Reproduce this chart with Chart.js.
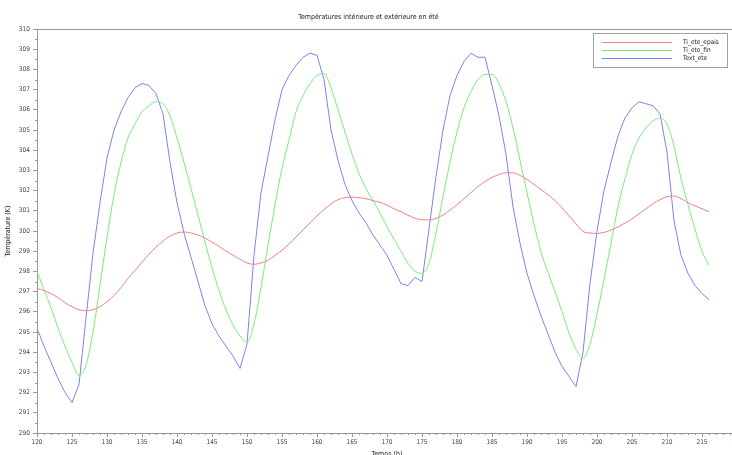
<!DOCTYPE html>
<html>
<head>
<meta charset="utf-8">
<title>Températures intérieure et extérieure en été</title>
<script src="https://cdn.jsdelivr.net/npm/chart.js@4.4.0/dist/chart.umd.min.js"></script>
<style>
  html, body { margin: 0; padding: 0; background: #fff; overflow: hidden; }
  #wrap { position: absolute; left: 0; top: 0; width: 745px; height: 462px; }
</style>
</head>
<body>
<div id="wrap"><canvas id="tempChart"></canvas></div>
<script>
// temps en heures
const hours = [
  120, 121, 122, 123, 124, 125, 126, 127, 128, 129,
  130, 131, 132, 133, 134, 135, 136, 137, 138, 139,
  140, 141, 142, 143, 144, 145, 146, 147, 148, 149,
  150, 151, 152, 153, 154, 155, 156, 157, 158, 159,
  160, 161, 162, 163, 164, 165, 166, 167, 168, 169,
  170, 171, 172, 173, 174, 175, 176, 177, 178, 179,
  180, 181, 182, 183, 184, 185, 186, 187, 188, 189,
  190, 191, 192, 193, 194, 195, 196, 197, 198, 199,
  200, 201, 202, 203, 204, 205, 206, 207, 208, 209,
  210, 211, 212, 213, 214, 215, 216
];

const tiEteEpais = [
  297.16, 297.05, 296.9, 296.7, 296.45, 296.25, 296.1, 296.05, 296.1, 296.25,
  296.5, 296.8, 297.2, 297.65, 298.05, 298.45, 298.85, 299.2, 299.5, 299.75,
  299.9, 299.95, 299.9, 299.8, 299.65, 299.45, 299.25, 299.0, 298.8, 298.6,
  298.42, 298.35, 298.42, 298.55, 298.8, 299.05, 299.35, 299.7, 300.05, 300.4,
  300.75, 301.05, 301.35, 301.55, 301.65, 301.68, 301.65, 301.6, 301.5, 301.42,
  301.28, 301.1, 300.95, 300.78, 300.63, 300.56, 300.55, 300.62, 300.8, 301.03,
  301.3, 301.6, 301.9, 302.2, 302.45, 302.65, 302.8, 302.88, 302.88, 302.75,
  302.55, 302.3, 302.05, 301.8, 301.5, 301.15, 300.75, 300.35, 299.98, 299.9,
  299.88, 299.93, 300.05, 300.2, 300.4, 300.6, 300.85, 301.1, 301.35, 301.55,
  301.7, 301.73, 301.6, 301.4, 301.25, 301.1, 300.95
];

const tiEteFin = [
  298.0, 297.1, 296.2, 295.2, 294.3, 293.5, 292.85, 293.35, 295.0, 297.3,
  299.7, 301.8, 303.4, 304.6, 305.3, 305.9, 306.2, 306.4, 306.3, 305.7,
  304.6, 303.4, 302.1, 300.8, 299.45, 298.2, 297.05, 296.1, 295.35, 294.8,
  294.5, 295.4, 297.2, 299.3, 301.3, 303.1, 304.5, 305.9, 306.7, 307.3,
  307.7, 307.8, 307.1, 306.0, 304.9, 303.8, 302.85, 302.1, 301.5, 300.9,
  300.2, 299.6, 299.0, 298.4, 298.0, 297.9, 298.4, 299.9, 301.7, 303.4,
  304.9, 306.1, 306.9, 307.5, 307.75, 307.75, 307.3, 306.4, 305.1, 303.5,
  301.9, 300.35, 298.95, 297.95, 297.0, 296.0, 294.95, 294.15, 293.7, 294.4,
  295.9, 297.6, 299.4, 301.2, 302.6, 303.8, 304.6, 305.1, 305.45, 305.58,
  305.3, 304.2, 302.6, 301.3, 300.1, 299.0, 298.3
];

const textEte = [
  295.2, 294.3, 293.5, 292.7, 292.0, 291.5, 292.4, 295.7, 298.9, 301.4,
  303.6, 305.0, 305.9, 306.6, 307.1, 307.3, 307.2, 306.8, 305.8, 303.4,
  301.4, 299.9, 298.7, 297.5, 296.3, 295.4, 294.8, 294.3, 293.8, 293.2,
  294.4, 298.8, 301.9, 303.7, 305.5, 307.0, 307.7, 308.2, 308.6, 308.8,
  308.7, 307.5, 305.0, 303.5, 302.3, 301.5, 300.9, 300.4, 299.8, 299.3,
  298.8, 298.1, 297.4, 297.3, 297.7, 297.5, 300.1, 302.7, 305.0, 306.7,
  307.7, 308.4, 308.8, 308.6, 308.6, 307.2, 305.7, 303.8, 301.2, 299.4,
  297.9, 296.8, 295.8, 294.9, 294.0, 293.3, 292.8, 292.3, 294.0, 297.4,
  300.0, 302.0, 303.4, 304.7, 305.6, 306.1, 306.4, 306.3, 306.2, 305.8,
  303.9, 300.5, 298.8, 297.9, 297.3, 296.9, 296.6
];

const seriesNames = ['Ti_ete_epais', 'Ti_ete_fin', 'Text_ete'];
const seriesColors = ['#ef8080', '#78ec78', '#8080ef'];

const FONT = "'DejaVu Sans Condensed', 'DejaVu Sans', sans-serif";
const AXIS_GREY = '#9a9a9a';

function toPoints(ys) {
  return hours.map((h, i) => ({ x: h, y: ys[i] }));
}

// cadre, petites graduations et legende facon Scilab
const scilabPlugin = {
  id: 'scilab',
  afterDraw(chart) {
    const ctx = chart.ctx;
    const a = chart.chartArea;
    const xs = chart.scales.x;
    const ys = chart.scales.y;
    ctx.save();
    ctx.strokeStyle = AXIS_GREY;
    ctx.lineWidth = 1;
    ctx.beginPath();
    ctx.moveTo(a.left, a.top + 0.5);
    ctx.lineTo(a.right, a.top + 0.5);
    ctx.lineTo(a.right, a.bottom);
    ctx.stroke();

    // minor ticks
    ctx.beginPath();
    for (let v = xs.min; v <= xs.max; v += 1) {
      if (v % 5 === 0) continue;
      const px = Math.round(xs.getPixelForValue(v)) + 0.5;
      ctx.moveTo(px, a.bottom);
      ctx.lineTo(px, a.bottom + 2);
    }
    for (let v = ys.min + 0.5; v < ys.max; v += 1) {
      const py = Math.round(ys.getPixelForValue(v)) + 0.5;
      ctx.moveTo(a.left, py);
      ctx.lineTo(a.left - 2, py);
    }
    ctx.stroke();

    // legend box
    const bx = a.right - 144, by = a.top + 4, bw = 134, bh = 34;
    ctx.fillStyle = '#fff';
    ctx.fillRect(bx, by, bw, bh);
    ctx.strokeStyle = '#a0a0a0';
    ctx.strokeRect(bx + 0.5, by + 0.5, bw, bh);
    ctx.font = '6.5px ' + FONT;
    ctx.textBaseline = 'middle';
    chart.data.datasets.forEach((ds, i) => {
      const ly = Math.round(by + 9 + i * 8) + 0.5;
      ctx.strokeStyle = ds.borderColor;
      ctx.beginPath();
      ctx.moveTo(bx + 9, ly);
      ctx.lineTo(bx + 79, ly);
      ctx.stroke();
      ctx.fillStyle = '#222';
      ctx.fillText(ds.label, bx + 90, ly);
    });
    ctx.restore();
  }
};

new Chart(document.getElementById('tempChart').getContext('2d'), {
  type: 'line',
  data: {
    datasets: [
      { label: seriesNames[0], data: toPoints(tiEteEpais), borderColor: seriesColors[0], cubicInterpolationMode: 'monotone' },
      { label: seriesNames[1], data: toPoints(tiEteFin), borderColor: seriesColors[1], cubicInterpolationMode: 'monotone' },
      { label: seriesNames[2], data: toPoints(textEte), borderColor: seriesColors[2] }
    ]
  },
  options: {
    responsive: true,
    maintainAspectRatio: false,
    animation: false,
    events: [],
    layout: { padding: { left: 0, right: 8, top: 0, bottom: 0 } },
    elements: {
      point: { radius: 0 },
      line: { borderWidth: 1, tension: 0 }
    },
    plugins: {
      legend: { display: false },
      tooltip: { enabled: false },
      title: {
        display: true,
        text: 'Températures intérieure et extérieure en été',
        color: '#222',
        font: { family: FONT, size: 7, weight: 'normal' },
        padding: { top: 12.8, bottom: 7.8 }
      }
    },
    scales: {
      x: {
        type: 'linear',
        min: 120,
        max: 220,
        afterFit(scale) { scale.height = 29; },
        border: { color: AXIS_GREY },
        grid: { drawOnChartArea: false, tickLength: 4, color: AXIS_GREY },
        ticks: {
          stepSize: 5,
          autoSkip: false,
          maxRotation: 0,
          padding: 1,
          color: '#444',
          font: { family: FONT, size: 6.5 }
        },
        title: {
          display: true,
          text: 'Temps (h)',
          color: '#222',
          font: { family: FONT, size: 7 },
          padding: { top: 4, bottom: 4 }
        }
      },
      y: {
        min: 290,
        max: 310,
        afterFit(scale) { scale.width = 37; },
        border: { color: AXIS_GREY },
        grid: { drawOnChartArea: false, tickLength: 4, color: AXIS_GREY },
        ticks: {
          stepSize: 1,
          padding: 3,
          color: '#444',
          font: { family: FONT, size: 6.5 }
        },
        title: {
          display: true,
          text: 'Température (K)',
          color: '#222',
          font: { family: FONT, size: 7 },
          padding: { top: 4, bottom: 4 }
        }
      }
    }
  },
  plugins: [scilabPlugin]
});
</script>
</body>
</html>
